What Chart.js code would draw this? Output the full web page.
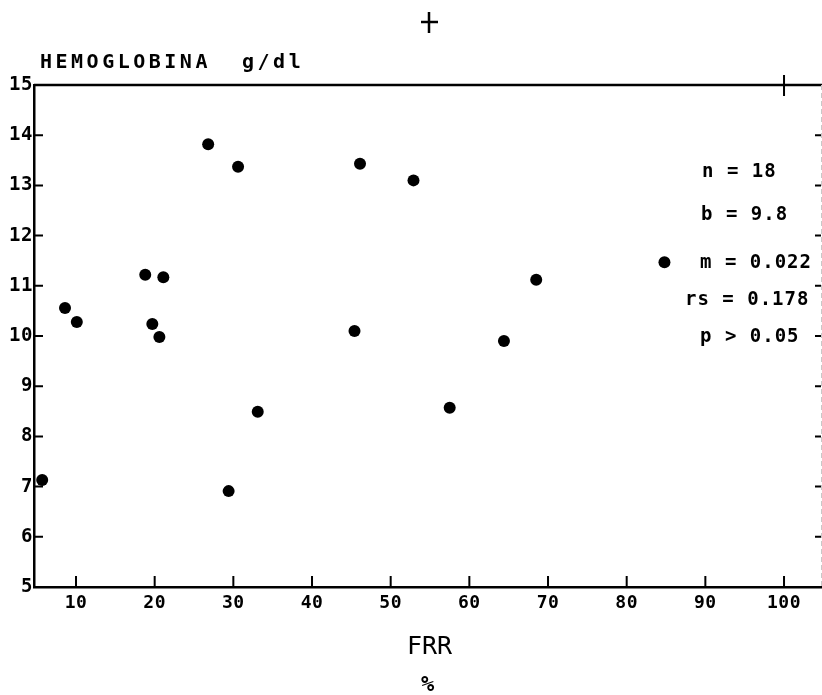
<!DOCTYPE html>
<html>
<head>
<meta charset="utf-8">
<script src="https://cdn.jsdelivr.net/npm/chart.js@4/dist/chart.umd.min.js"></script>
<style>
html, body { margin: 0; padding: 0; background: #fff; overflow: hidden; }
#wrap { width: 822px; height: 695px; }
</style>
</head>
<body>
<div id="wrap"><canvas id="grafico"></canvas></div>
<script>
// FRR (%) de cada paciente
var frr = [5.7, 8.6, 10.1, 18.8, 19.7, 20.6, 21.1, 26.8, 29.4, 30.6, 33.1, 45.4, 46.1, 52.9, 57.5, 64.4, 68.5, 84.8];
// hemoglobina (g/dl), mesma ordem
var hemoglobina = [7.13, 10.56, 10.28, 11.22, 10.24, 9.98, 11.17, 13.82, 6.91, 13.37, 8.49, 10.1, 13.43, 13.1, 8.57, 9.9, 11.12, 11.47];

// ticks dos eixos
var xTicks = [10, 20, 30, 40, 50, 60, 70, 80, 90, 100];
var yTicks = [5, 6, 7, 8, 9, 10, 11, 12, 13, 14, 15];

// textos
var yTitle = 'HEMOGLOBINA  g/dl';
var xTitle = 'FRR';
var xUnit = '%';
var statLines = ['n = 18', 'b = 9.8', 'm = 0.022', 'rs = 0.178', 'p > 0.05'];

var fonte = '"DejaVu Sans Mono", "Liberation Mono", monospace';

// frame, inward ticks and the loose labels
var moldura = {
    id: 'moldura',
    beforeDraw: function (chart) {
        chart.ctx.letterSpacing = '0.5px';
    },
    afterDraw: function (chart) {
        var c = chart.ctx;
        var a = chart.chartArea;
        var sx = chart.scales.x;
        var sy = chart.scales.y;
        c.save();
        c.letterSpacing = '0px';
        c.strokeStyle = '#000';
        c.lineCap = 'butt';

        // top border
        c.lineWidth = 2.5;
        c.beginPath();
        c.moveTo(a.left, a.top);
        c.lineTo(a.right + 1, a.top);
        c.stroke();

        // right border, faint
        c.save();
        c.strokeStyle = '#c8c8c8';
        c.lineWidth = 1;
        c.setLineDash([5, 3]);
        c.beginPath();
        c.moveTo(a.right + 0.5, a.top);
        c.lineTo(a.right + 0.5, a.bottom);
        c.stroke();
        c.restore();

        // ticks
        c.lineWidth = 2;
        c.beginPath();
        xTicks.forEach(function (v) {
            var px = sx.getPixelForValue(v);
            c.moveTo(px, a.bottom);
            c.lineTo(px, a.bottom - 11);
        });
        yTicks.forEach(function (v) {
            if (v == 5 || v == 15) { return; }
            var py = sy.getPixelForValue(v);
            c.moveTo(a.left, py);
            c.lineTo(a.left + 9, py);
            c.moveTo(a.right, py);
            c.lineTo(a.right - 6, py);
        });
        // cross on top border at 100
        var p100 = sx.getPixelForValue(100);
        c.moveTo(p100, a.top - 10);
        c.lineTo(p100, a.top + 11);
        c.stroke();

        // loose cross above the plot
        c.lineWidth = 2.5;
        c.beginPath();
        c.moveTo(421, 22);
        c.lineTo(438, 22);
        c.moveTo(429, 12);
        c.lineTo(429, 33);
        c.stroke();

        c.fillStyle = '#000';
        c.textBaseline = 'middle';

        // y title
        c.textAlign = 'left';
        c.font = 'bold 20px ' + fonte;
        c.letterSpacing = '3.5px';
        c.fillText(yTitle, 40, 63);

        // stats
        var statX = [702, 701, 700, 685, 700];
        var statY = [172, 215, 263, 300, 337];
        c.font = 'bold 19px ' + fonte;
        c.letterSpacing = '1px';
        statLines.forEach(function (t, i) {
            c.fillText(t, statX[i], statY[i]);
        });

        // x title + unit
        c.textAlign = 'center';
        var cx = (a.left + a.right) / 2;
        c.font = '25px ' + fonte;
        c.letterSpacing = '0px';
        c.fillText(xTitle, cx + 2, 647);
        c.font = 'bold 22px ' + fonte;
        c.fillText(xUnit, cx, 685);

        c.restore();
    }
};

var pontos = frr.map(function (v, i) {
    return { x: v, y: hemoglobina[i] };
});

new Chart(document.getElementById('grafico'), {
    type: 'scatter',
    data: {
        datasets: [{
            data: pontos,
            backgroundColor: '#000',
            borderWidth: 0,
            pointRadius: 6,
            pointHoverRadius: 6
        }]
    },
    options: {
        responsive: true,
        maintainAspectRatio: false,
        animation: false,
        layout: { autoPadding: false, padding: { top: 85, right: 1, left: 0, bottom: 0 } },
        plugins: {
            legend: { display: false },
            tooltip: { enabled: false }
        },
        scales: {
            x: {
                type: 'linear',
                min: 4.66,
                max: 104.7,
                afterBuildTicks: function (scale) {
                    scale.ticks = xTicks.map(function (v) { return { value: v }; });
                },
                afterFit: function (scale) {
                    scale.height = 108;
                    scale.paddingLeft = 0;
                    scale.paddingRight = 0;
                },
                grid: { display: false, drawTicks: false },
                border: { display: true, color: '#000', width: 2.5 },
                ticks: {
                    color: '#000',
                    padding: 6,
                    maxRotation: 0,
                    autoSkip: false,
                    font: { family: fonte, size: 18, weight: 'bold' }
                }
            },
            y: {
                type: 'linear',
                min: 5,
                max: 15,
                afterBuildTicks: function (scale) {
                    scale.ticks = yTicks.map(function (v) { return { value: v }; });
                },
                afterFit: function (scale) {
                    scale.width = 34;
                    scale.paddingTop = 0;
                    scale.paddingBottom = 0;
                },
                grid: { display: false, drawTicks: false },
                border: { display: true, color: '#000', width: 2.5 },
                ticks: {
                    color: '#000',
                    padding: 1,
                    autoSkip: false,
                    font: { family: fonte, size: 19, weight: 'bold' }
                }
            }
        }
    },
    plugins: [moldura]
});
</script>
</body>
</html>
